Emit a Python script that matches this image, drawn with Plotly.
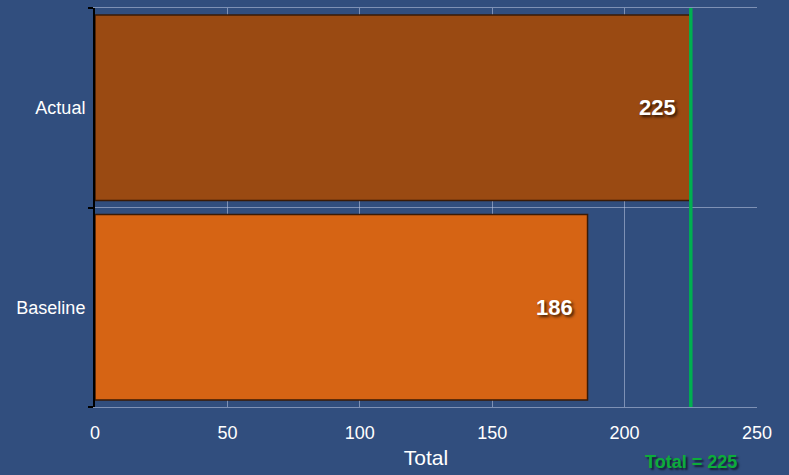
import plotly.graph_objects as go

categories = ["Baseline", "Actual"]
values = [186, 225]
bar_colors = ["#d66414", "#9a4a12"]
total_value = 225
x_ticks = [0, 50, 100, 150, 200, 250]

bg = "#314e7e"
grid = "rgba(190,200,225,0.55)"
font = "Arial"
shadow = "2px 2px 3px rgba(0,0,0,0.7)"

fig = go.Figure()
fig.add_trace(go.Bar(
    y=categories, x=values, orientation="h",
    marker=dict(color=bar_colors, line=dict(color="#3a1a05", width=1.5)),
    width=0.93, hoverinfo="skip",
))

for c, v in zip(categories, values):
    fig.add_annotation(x=v, y=c, xref="x", yref="y", text=str(v), showarrow=False,
                       xanchor="right", yanchor="middle", xshift=-13,
                       font=dict(family=font, size=22, color="white", weight="bold",
                                 shadow=shadow))

fig.add_shape(type="line", xref="x", yref="paper", x0=total_value, x1=total_value,
              y0=0, y1=1, line=dict(color="#00b050", width=3.5))

fig.add_annotation(xref="x", yref="paper", x=total_value, y=-0.138,
                   xanchor="center", yanchor="middle", showarrow=False,
                   text=f"Total = {total_value}",
                   font=dict(family=font, size=18, color="#0cad3a", weight="bold",
                             shadow="2px 2px 2px rgba(0,0,0,0.6)"))

fig.update_layout(
    width=789, height=475,
    paper_bgcolor=bg, plot_bgcolor=bg,
    margin=dict(l=95, r=32, t=8, b=68),
    showlegend=False,
    bargap=0.07,
    xaxis=dict(range=[0, 250], tickvals=x_ticks, showgrid=True,
               gridcolor=grid, gridwidth=1,
               zeroline=False, showline=True, linecolor=grid, linewidth=1, mirror=True,
               tickfont=dict(family=font, size=18, color="white"),
               ticks="", ticklabelstandoff=9,
               title=dict(text="Total", font=dict(family=font, size=21, color="white"),
                          standoff=8)),
    yaxis=dict(type="category", tickson="boundaries", showgrid=True,
               gridcolor=grid, gridwidth=1,
               showline=True, linecolor="black", linewidth=2,
               ticks="outside", ticklen=5, tickcolor="black", tickwidth=2,
               tickfont=dict(family=font, size=18, color="white"),
               ticklabelstandoff=4),
)

fig.write_html("out.html", config={"displayModeBar": False},
               post_script="document.body.style.margin='0';document.body.style.background='%s';" % bg)
